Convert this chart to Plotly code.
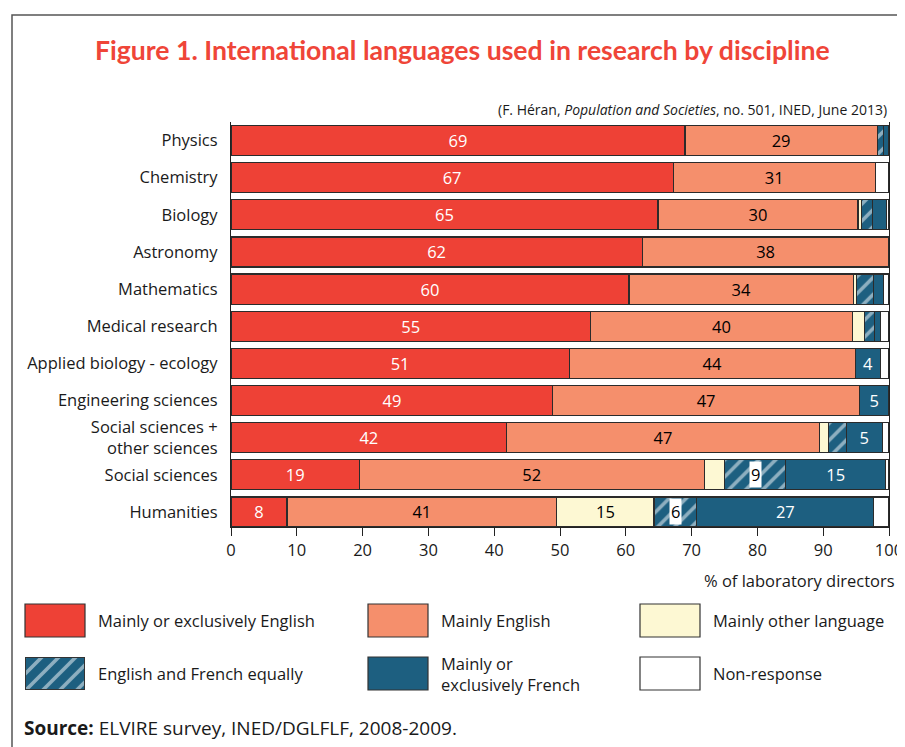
import plotly.graph_objects as go

# --- data (percent of laboratory directors) ---
disciplines = ["Physics", "Chemistry", "Biology", "Astronomy", "Mathematics",
               "Medical research", "Applied biology - ecology", "Engineering sciences",
               "Social sciences +<br>other sciences", "Social sciences", "Humanities"]

excl_english = [69.0, 67.2, 64.9, 62.5, 60.5, 54.6, 51.4, 48.9, 41.9, 19.5, 8.5]
mainly_english = [29.2, 30.7, 30.4, 37.5, 34.1, 39.9, 43.5, 46.6, 47.5, 52.4, 41.0]
other_lang = [0.0, 0.0, 0.5, 0.0, 0.4, 1.8, 0.0, 0.0, 1.4, 3.1, 14.8]
eng_fr_equal = [1.0, 0.0, 1.7, 0.0, 2.6, 1.5, 0.0, 0.0, 2.7, 9.3, 6.5]
excl_french = [0.8, 0.0, 2.1, 0.0, 1.6, 0.9, 3.8, 4.5, 5.5, 15.2, 26.9]
non_response = [round(100 - sum(v), 1) for v in
                zip(excl_english, mainly_english, other_lang, eng_fr_equal, excl_french)]

# labels printed on the bars ("" = not shown)
lbl_excl_english = ["69", "67", "65", "62", "60", "55", "51", "49", "42", "19", "8"]
lbl_mainly_english = ["29", "31", "30", "38", "34", "40", "44", "47", "47", "52", "41"]
lbl_other_lang = ["", "", "", "", "", "", "", "", "", "", "15"]
lbl_eng_fr_equal = ["", "", "", "", "", "", "", "", "", "9", "6"]
lbl_excl_french = ["", "", "", "", "", "", "4", "5", "5", "15", "27"]

x_ticks = list(range(0, 101, 10))

RED = "#EE4136"
ORANGE = "#F58F6C"
CREAM = "#FDF8D3"
BLUE = "#1D5F80"
EDGE = "#2b2b2b"
FONT = "Open Sans"
TXT = "#1a1a1a"

# whole figure is the paper; positions given in page pixels (page has an 8px body margin)
W, H = 905, 747
OFF = 8


def px(x):
    return (x - OFF) / W


def py(y):
    return 1 - (y - OFF) / H


fig = go.Figure()

series = [
    ("Mainly or exclusively English", excl_english, lbl_excl_english, RED, "white", None),
    ("Mainly English", mainly_english, lbl_mainly_english, ORANGE, "black", None),
    ("Mainly other language", other_lang, lbl_other_lang, CREAM, "black", None),
    ("English and French equally", eng_fr_equal, [""] * 11, BLUE, "black", "/"),
    ("Mainly or exclusively French", excl_french, lbl_excl_french, BLUE, "white", None),
    ("Non-response", non_response, [""] * 11, "white", "black", None),
]

hatch = dict(shape="/", fillmode="overlay", fgcolor="white", bgcolor=BLUE,
             size=12, solidity=0.3)

for name, vals, labels, color, tcolor, pat in series:
    marker = dict(color=color, line=dict(color=EDGE, width=1.2))
    if pat:
        marker["pattern"] = hatch
    fig.add_trace(go.Bar(
        y=disciplines, x=vals, orientation="h", name=name,
        marker=marker, text=labels, textposition="inside",
        insidetextanchor="middle", textangle=0,
        textfont=dict(family=FONT, size=16.5, color=tcolor),
        showlegend=False, hoverinfo="skip",
    ))

shapes = []
annotations = []

# labels on the hatched segments sit on a white box
start = [a + b + c for a, b, c in zip(excl_english, mainly_english, other_lang)]
for cat, s, v, lab in zip(disciplines, start, eng_fr_equal, lbl_eng_fr_equal):
    if lab:
        annotations.append(dict(x=s + v / 2, y=cat, xref="x", yref="y", text=lab,
                                showarrow=False, bgcolor="white", borderpad=1,
                                font=dict(family=FONT, size=16.5, color="black")))

# outer frame
shapes.append(dict(type="rect", xref="paper", yref="paper",
                   x0=px(12), x1=px(930), y0=py(15), y1=py(770),
                   line=dict(color="#555555", width=1.5), fillcolor="rgba(0,0,0,0)",
                   layer="below"))

# title, citation, axis title, source
annotations.append(dict(x=px(462), y=py(50), xref="paper", yref="paper",
                        text="<b>Figure 1. International languages used in research by discipline</b>",
                        showarrow=False, xanchor="center", yanchor="middle",
                        font=dict(family="Lato", size=26.6, color="#EF4538")))
annotations.append(dict(x=px(889), y=py(109), xref="paper", yref="paper",
                        text="(F. Héran, <i>Population and Societies</i>, no. 501, INED, June 2013)",
                        showarrow=False, xanchor="right", yanchor="middle",
                        font=dict(family=FONT, size=14, color=TXT)))
annotations.append(dict(x=px(897), y=py(580), xref="paper", yref="paper",
                        text="% of laboratory directors", showarrow=False,
                        xanchor="right", yanchor="middle",
                        font=dict(family=FONT, size=16.5, color=TXT)))
annotations.append(dict(x=px(22), y=py(728), xref="paper", yref="paper",
                        text="<b>Source:</b> ELVIRE survey, INED/DGLFLF, 2008-2009.",
                        showarrow=False, xanchor="left", yanchor="middle",
                        font=dict(family=FONT, size=19, color=TXT)))

# custom legend: 2 rows x 3 columns of boxes
legend_items = [
    ("Mainly or exclusively English", RED, 25, 604),
    ("Mainly English", ORANGE, 368, 604),
    ("Mainly other language", CREAM, 640, 604),
    ("English and French equally", None, 25, 657),
    ("Mainly or<br>exclusively French", BLUE, 368, 657),
    ("Non-response", "white", 640, 657),
]
for text, color, bx, by in legend_items:
    if color is not None:
        shapes.append(dict(type="rect", xref="paper", yref="paper",
                           x0=px(bx), x1=px(bx + 60), y0=py(by), y1=py(by + 33),
                           fillcolor=color, line=dict(color="#333", width=1.2)))
    annotations.append(dict(x=px(bx + 71), y=py(by + 16.5), xref="paper", yref="paper",
                            text=text, showarrow=False, xanchor="left", yanchor="middle",
                            align="left", font=dict(family=FONT, size=16.5, color=TXT)))

# hatched legend swatch drawn as a bar on its own small axis
fig.add_trace(go.Bar(
    x=[1], y=[0], orientation="h", width=[1], base=[0],
    marker=dict(color=BLUE, line=dict(color="#333", width=1.2), pattern=hatch),
    xaxis="x2", yaxis="y2", showlegend=False, hoverinfo="skip",
))

fig.update_layout(
    width=W, height=H,
    margin=dict(l=0, r=0, t=0, b=0, autoexpand=False),
    barmode="stack", bargap=0.19,
    paper_bgcolor="white", plot_bgcolor="white",
    font=dict(family=FONT, size=16.5, color=TXT),
    shapes=shapes, annotations=annotations,
    uniformtext=dict(minsize=15, mode="show"),
    xaxis=dict(domain=[px(231), px(889)], range=[0, 100], tickvals=x_ticks,
               showgrid=False, zeroline=False, automargin=False,
               showline=True, linecolor="#222", linewidth=1.2,
               ticks="outside", ticklen=8, tickcolor="#222", tickwidth=1.2,
               tickfont=dict(family=FONT, size=16.5, color=TXT)),
    yaxis=dict(domain=[py(527), py(122)], categoryorder="array", categoryarray=disciplines,
               range=[10.405, -0.5], showgrid=False, zeroline=False, automargin=False,
               showline=True, mirror=True, linecolor="#222", linewidth=1.2,
               ticks="", ticklabelstandoff=9,
               tickfont=dict(family=FONT, size=16.5, color=TXT)),
    xaxis2=dict(domain=[px(25), px(85)], range=[0, 1], visible=False,
                anchor="y2", fixedrange=True),
    yaxis2=dict(domain=[py(690), py(657)], range=[-0.5, 0.5], visible=False,
                anchor="x2", fixedrange=True),
)

fig.write_html("out.html")
